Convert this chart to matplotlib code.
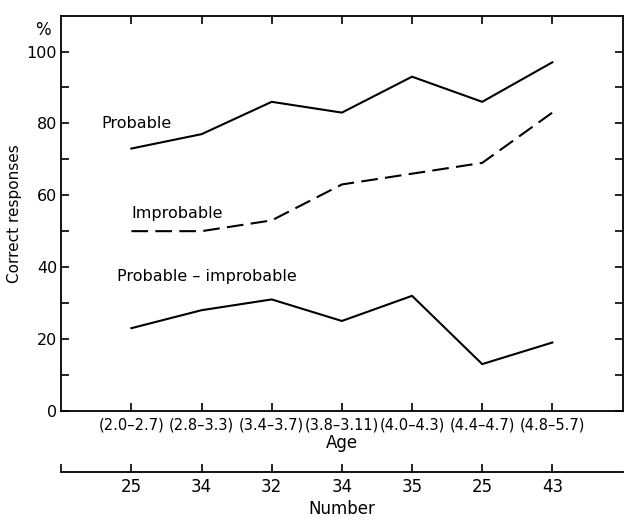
import matplotlib
matplotlib.use("Agg")
import matplotlib.pyplot as plt
import matplotlib.transforms as mtransforms

plt.rcParams['font.family'] = ['DejaVu Sans']

age_groups = ['(2.0–2.7)', '(2.8–3.3)', '(3.4–3.7)', '(3.8–3.11)', '(4.0–4.3)', '(4.4–4.7)', '(4.8–5.7)']
numbers = ['25', '34', '32', '34', '35', '25', '43']
probable = [73, 77, 86, 83, 93, 86, 97]
improbable = [50, 50, 53, 63, 66, 69, 83]
prob_minus_improb = [23, 28, 31, 25, 32, 13, 19]

x = list(range(1, len(age_groups) + 1))

fig = plt.figure(figsize=(6.25, 5.2), dpi=100)
ax = fig.add_axes([0.098, 0.21, 0.898, 0.76])

ax.plot(x, probable, color='black', lw=1.5)
ax.plot(x, improbable, color='black', lw=1.5, dashes=(8, 3.5))
ax.plot(x, prob_minus_improb, color='black', lw=1.5)

ax.text(0.57, 80, 'Probable', fontsize=11.5, va='center')
ax.text(1.0, 55, 'Improbable', fontsize=11.5, va='center')
ax.text(0.79, 37.5, 'Probable – improbable', fontsize=11.5, va='center')

ax.set_xlim(0, 8)
ax.set_ylim(0, 110)
ax.set_yticks(range(0, 110, 10))
ax.set_yticklabels([str(v) if v % 20 == 0 else '' for v in range(0, 110, 10)], fontsize=11.5)
ax.set_xticks(x)
ax.set_xticklabels(age_groups, fontsize=10.5)
ax.tick_params(axis='both', direction='in', length=6, width=1.2,
               top=True, right=True, pad=3)
ax.tick_params(axis='x', pad=5)
for s in ax.spines.values():
    s.set_linewidth(1.3)
ax.set_xlabel('Age', fontsize=12, labelpad=1)
ax.set_ylabel('Correct responses', fontsize=11)
ax.yaxis.set_label_coords(-0.07, 0.5)
trans = mtransforms.blended_transform_factory(ax.transAxes, ax.transData)
ax.text(-0.018, 106, '%', transform=trans, fontsize=12, ha='right', va='center')

# second axis for number of children
sec = ax.secondary_xaxis(-0.155)
sec.set_xticks([0] + x)
sec.set_xticklabels([''] + numbers, fontsize=12)
sec.tick_params(direction='in', length=6, width=1.2, pad=4)
sec.spines['bottom'].set_linewidth(1.3)
sec.set_xlabel('Number', fontsize=12, labelpad=3)

fig.savefig('out.png', dpi=100)
